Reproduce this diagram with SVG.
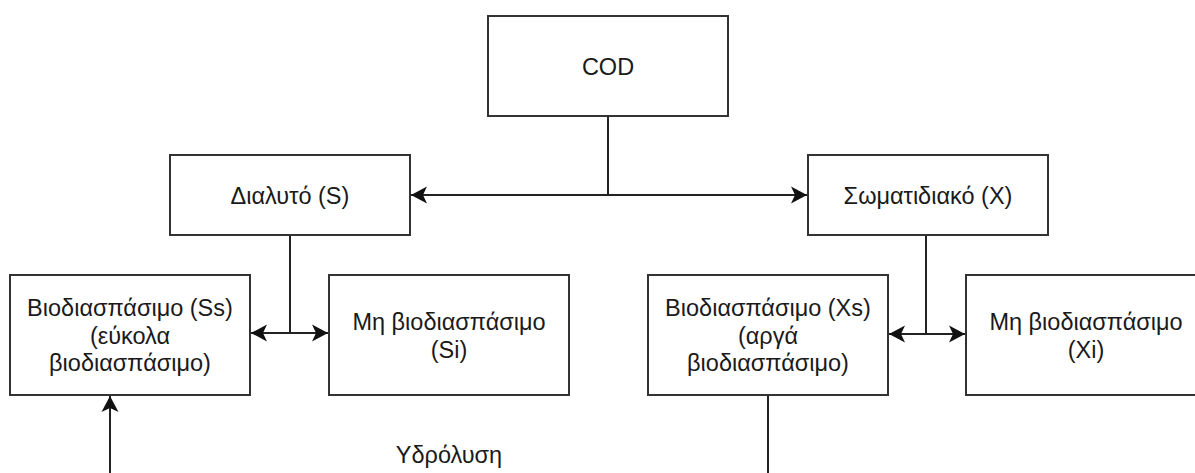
<svg xmlns="http://www.w3.org/2000/svg" width="1195" height="473" viewBox="0 0 1195 473">
<style>
.box{fill:#fff;stroke:#333;stroke-width:2}
.t{font-family:"Liberation Sans",Arial,sans-serif;font-size:23.5px;fill:#1a1a1a;text-anchor:middle}
.c{fill:none;stroke:#222;stroke-width:2}
.a2{marker-end:url(#arr);marker-start:url(#arrs)}
.a1{marker-end:url(#arr)}
</style>
<defs>
<marker id="arr" markerUnits="userSpaceOnUse" markerWidth="18" markerHeight="18" refX="16" refY="9" orient="auto">
<path d="M0,0.5 L16,9 L0,17.5 L4,9 Z" fill="#111"/>
</marker>
<marker id="arrs" markerUnits="userSpaceOnUse" markerWidth="18" markerHeight="18" refX="16" refY="9" orient="auto-start-reverse">
<path d="M0,0.5 L16,9 L0,17.5 L4,9 Z" fill="#111"/>
</marker>
</defs>
<g id="connectors">
<path class="c" d="M608,116 V195"/>
<path class="c a2" d="M411,195 H807"/>
<path class="c" d="M290,235 V333"/>
<path class="c a2" d="M251,333 H328"/>
<path class="c" d="M926,235 V334"/>
<path class="c a2" d="M889,334 H965"/>
<path class="c a1" d="M110,473 V396"/>
<path class="c" d="M768,395 V473"/>
</g>
<g id="cod"><rect class="box" x="488" y="16" width="240" height="100"/><text class="t" x="608" y="75">COD</text></g>
<g id="dialyto"><rect class="box" x="170" y="155" width="240" height="80"/><text class="t" x="290" y="204">Διαλυτό (S)</text></g>
<g id="somatidiako"><rect class="box" x="808" y="155" width="240" height="80"/><text class="t" x="928" y="204">Σωματιδιακό (X)</text></g>
<g id="ss"><rect class="box" x="10" y="275" width="240" height="120"/><text class="t" x="130" y="316">Βιοδιασπάσιμο (Ss)<tspan x="130" y="344">(εύκολα</tspan><tspan x="130" y="371">βιοδιασπάσιμο)</tspan></text></g>
<g id="si"><rect class="box" x="329" y="275" width="240" height="120"/><text class="t" x="449" y="330">Μη βιοδιασπάσιμο<tspan x="449" y="358">(Si)</tspan></text></g>
<g id="xs"><rect class="box" x="648" y="275" width="240" height="120"/><text class="t" x="768" y="316">Βιοδιασπάσιμο (Xs)<tspan x="768" y="344">(αργά</tspan><tspan x="768" y="371">βιοδιασπάσιμο)</tspan></text></g>
<g id="xi"><rect class="box" x="966" y="275" width="240" height="120"/><text class="t" x="1086" y="330">Μη βιοδιασπάσιμο<tspan x="1086" y="358">(Xi)</tspan></text></g>
<g id="ydrolysi"><text class="t" x="449" y="463">Υδρόλυση</text></g>
</svg>
